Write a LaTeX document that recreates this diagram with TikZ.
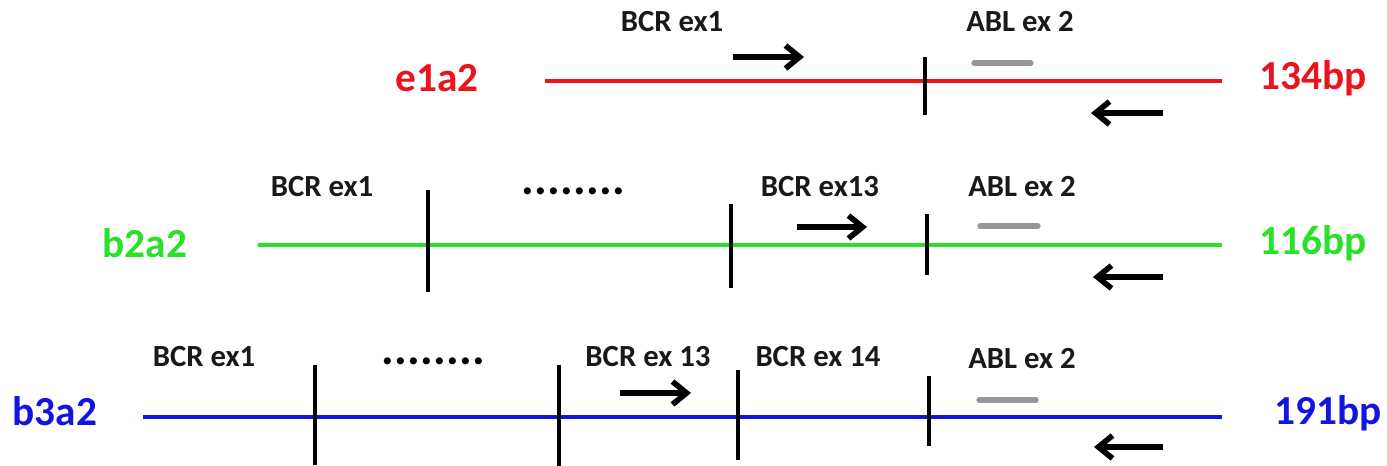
\documentclass[tikz,border=0pt]{standalone}
\usepackage{fontspec}
\setmainfont{Carlito}
\usetikzlibrary{arrows.meta}
\definecolor{cred}{RGB}{235,20,30}
\definecolor{cgreen}{RGB}{40,225,40}
\definecolor{cblue}{RGB}{20,20,225}
\definecolor{cgray}{RGB}{150,150,150}
\newcommand{\dotrowx}{\textbf{\fontsize{27}{29}\selectfont.\kern0.2pt.\kern0.2pt.\kern0.2pt.\kern0.2pt.\kern0.2pt.\kern0.2pt.\kern0.2pt.}}
\tikzset{
  lbl/.style={font=\bfseries\fontsize{17.5}{19}\selectfont, text=black!90, inner sep=0pt},
  tag/.style={font=\bfseries\fontsize{23.5}{25}\selectfont, inner sep=0pt},
  dotlbl/.style={inner sep=0pt, text=black},
  strand/.style={line width=2pt},
  junction/.style={line width=1.9pt, black},
  primer/.style={line width=3.2pt, black, -{Straight Barb[length=8pt,width=13pt]}},
  probe/.style={line width=3pt, cgray, line cap=round}
}
\begin{document}
\begin{tikzpicture}[x=0.02cm,y=-0.02cm]
\useasboundingbox (0,0) rectangle (1387,466);

% ---------- row 1: e1a2 ----------
\node[tag, text=cred] (n1) at (437,78) {e1a2};
\node[tag, text=cred] (s1) at (1313,78) {134bp};
\coordinate (r1a) at (545,81);
\coordinate (r1b) at (1222,81);
\draw[strand, cred] (r1a) -- (r1b);
\coordinate (j1t) at (925,57); \coordinate (j1b) at (925,115);
\draw[junction] (j1t) -- (j1b);
\node[lbl] (l11) at (672,22) {BCR ex1};
\node[lbl] (l12) at (1020,22) {ABL ex 2};
\coordinate (f1a) at (733,57); \coordinate (f1b) at (804,57);
\draw[primer] (f1a) -- (f1b);
\coordinate (p1a) at (974,63); \coordinate (p1b) at (1031,63);
\draw[probe] (p1a) -- (p1b);
\coordinate (q1a) at (1163,113); \coordinate (q1b) at (1091,113);
\draw[primer] (q1a) -- (q1b);

% ---------- row 2: b2a2 ----------
\node[tag, text=cgreen] (n2) at (145,243) {b2a2};
\node[tag, text=cgreen] (s2) at (1313,243) {116bp};
\coordinate (r2a) at (258,245);
\coordinate (r2b) at (1222,245);
\draw[strand, cgreen] (r2a) -- (r2b);
\coordinate (j21t) at (428,190); \coordinate (j21b) at (428,292);
\coordinate (j22t) at (731,204); \coordinate (j22b) at (731,288);
\coordinate (j23t) at (927,214); \coordinate (j23b) at (927,275);
\draw[junction] (j21t) -- (j21b);
\draw[junction] (j22t) -- (j22b);
\draw[junction] (j23t) -- (j23b);
\node[lbl] (l21) at (322,187) {BCR ex1};
\node[dotlbl] (d2) at (573,191) {\dotrowx};
\node[lbl] (l22) at (820,187) {BCR ex13};
\node[lbl] (l23) at (1022,187) {ABL ex 2};
\coordinate (f2a) at (797,227); \coordinate (f2b) at (867,227);
\draw[primer] (f2a) -- (f2b);
\coordinate (p2a) at (980,226); \coordinate (p2b) at (1038,226);
\draw[probe] (p2a) -- (p2b);
\coordinate (q2a) at (1163,277); \coordinate (q2b) at (1093,277);
\draw[primer] (q2a) -- (q2b);

% ---------- row 3: b3a2 ----------
\node[tag, text=cblue] (n3) at (55,411) {b3a2};
\node[tag, text=cblue] (s3) at (1328,413) {191bp};
\coordinate (r3a) at (143,417);
\coordinate (r3b) at (1222,417);
\draw[strand, cblue] (r3a) -- (r3b);
\coordinate (j31t) at (315,365); \coordinate (j31b) at (315,465);
\coordinate (j32t) at (559,365); \coordinate (j32b) at (559,466);
\coordinate (j33t) at (738,370); \coordinate (j33b) at (738,460);
\coordinate (j34t) at (929,376); \coordinate (j34b) at (929,446);
\draw[junction] (j31t) -- (j31b);
\draw[junction] (j32t) -- (j32b);
\draw[junction] (j33t) -- (j33b);
\draw[junction] (j34t) -- (j34b);
\node[lbl] (l31) at (204,357) {BCR ex1};
\node[dotlbl] (d3) at (433,361) {\dotrowx};
\node[lbl] (l32) at (648,357) {BCR ex 13};
\node[lbl] (l33) at (818,357) {BCR ex 14};
\node[lbl] (l34) at (1022,359) {ABL ex 2};
\coordinate (f3a) at (620,393); \coordinate (f3b) at (691,393);
\draw[primer] (f3a) -- (f3b);
\coordinate (p3a) at (979,400); \coordinate (p3b) at (1036,400);
\draw[probe] (p3a) -- (p3b);
\coordinate (q3a) at (1163,447); \coordinate (q3b) at (1094,447);
\draw[primer] (q3a) -- (q3b);
\end{tikzpicture}
\end{document}
